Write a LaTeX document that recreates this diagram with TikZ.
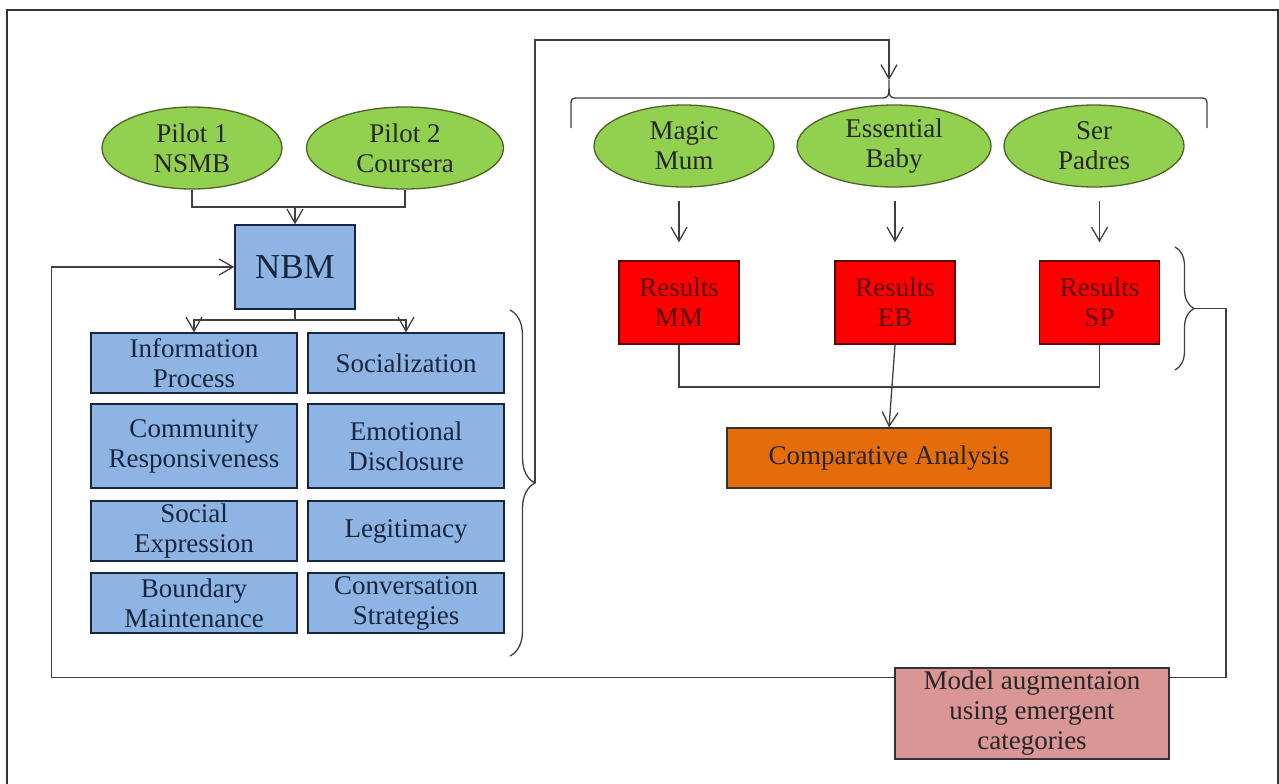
\documentclass[tikz,border=0pt]{standalone}
\usepackage{fontspec}
\setmainfont{Liberation Serif}
\usetikzlibrary{shapes,arrows.meta,decorations.pathreplacing}

\definecolor{ellgreen}{RGB}{146,208,80}
\definecolor{ellline}{RGB}{79,98,40}
\definecolor{boxblue}{RGB}{141,180,226}
\definecolor{boxline}{RGB}{23,38,62}
\definecolor{resred}{RGB}{255,0,0}
\definecolor{resline}{RGB}{90,10,10}
\definecolor{comporange}{RGB}{228,108,10}
\definecolor{augpink}{RGB}{217,150,148}
\definecolor{linegray}{RGB}{64,64,64}

\begin{document}
\begin{tikzpicture}[x=0.5pt, y=-0.5pt, line width=0.65pt,
  txt/.style={font=\fontsize{13.5}{15}\selectfont, align=center, inner sep=0pt},
  site/.style={txt, ellipse, draw=ellline, fill=ellgreen, text=black!85, minimum height=41pt},
  cat/.style={txt, rectangle, draw=boxline, fill=boxblue, text=boxline, minimum height=30pt},
  res/.style={txt, rectangle, draw=resline, fill=resred, text=resline, minimum width=60pt, minimum height=41.5pt},
  conn/.style={draw=linegray},
  arr/.style={-{Straight Barb[length=7pt,width=8pt]}}
  ]

  \useasboundingbox (0,0) rectangle (1279,783);
  \draw[line width=0.8pt, black!80] (7,10) rectangle (1278,830);

  % left part: pilots and NBM
  \node[site, minimum width=90pt] (pilotA) at (192,148) {Pilot 1\\NSMB};
  \node[site, minimum width=98.5pt] (pilotB) at (405,148) {Pilot 2\\Coursera};
  \node[cat, minimum width=60pt, minimum height=42pt,
        font=\fontsize{17.5}{20}\selectfont] (nbm) at (295,267) {NBM};

  \node[cat, minimum width=103pt] (info) at (194,363) {Information\\Process};
  \node[cat, minimum width=98pt] (social) at (406,363) {Socialization};
  \node[cat, minimum width=103pt, minimum height=42pt] (commun) at (194,446) {Community\\Responsiveness};
  \node[cat, minimum width=98pt, minimum height=42pt] (emot) at (406,446) {Emotional\\Disclosure};
  \node[cat, minimum width=103pt] (socexp) at (194,531) {Social\\Expression};
  \node[cat, minimum width=98pt] (legit) at (406,531) {Legitimacy};
  \node[cat, minimum width=103pt] (bound) at (194,603) {Boundary\\Maintenance};
  \node[cat, minimum width=98pt] (conv) at (406,603) {Conversation\\Strategies};

  % right part: sites and results
  \node[site, minimum width=90pt] (magic) at (684,146) {Magic\\Mum};
  \node[site, minimum width=97pt] (essential) at (894,146) {Essential\\Baby};
  \node[site, minimum width=90pt] (ser) at (1094,146) {Ser\\Padres};

  \node[res] (mm) at (679,302.5) {Results\\MM};
  \node[res] (eb) at (895,302.5) {Results\\EB};
  \node[res] (sp) at (1099.5,302.5) {Results\\SP};

  \node[txt, draw=black!80, fill=comporange, text=black!85, minimum width=162pt,
        minimum height=30pt] (comp) at (889,458) {Comparative Analysis};
  \node[txt, draw=black!80, fill=augpink, text=black!85, minimum width=137pt,
        minimum height=45.5pt] (model) at (1032,713.5) {Model augmentaion\\using emergent\\categories};

  % braces
  \draw[conn, decorate, decoration={brace, amplitude=12.5pt}] (510,310) -- (510,656);
  \coordinate (lbtip) at (535,483);
  \draw[conn, decorate, decoration={brace, amplitude=9.5pt}] (1175,247) -- (1175,370);
  \coordinate (rbtip) at (1194,308.5);
  \coordinate (tbtip) at (889,80);
  \draw[conn] (571,128) -- (571,107) .. controls (571,98) .. (580,98) -- (880,98)
    .. controls (889,98) .. (tbtip) .. controls (889,98) .. (898,98) -- (1198,98)
    .. controls (1207,98) .. (1207,107) -- (1207,128);

  % connectors
  \coordinate (pj) at (295,207);
  \draw[conn] (pilotA.south) |- (pj) -| (pilotB.south);
  \draw[conn, arr] (pj) -- (nbm.north);

  \coordinate (nj) at (295,320);
  \draw[conn] (nbm.south) -- (nj);
  \draw[conn, arr] (nj) -| (info.north);
  \draw[conn, arr] (nj) -| (social.north);

  \coordinate (tc) at (889,40);
  \draw[conn, arr] (lbtip) |- (tc) -- (tbtip);

  \draw[conn, arr] ([yshift=-6.5pt]mm.north |- magic.south) -- ([yshift=9pt]mm.north);
  \draw[conn, arr] ([yshift=-6.5pt]eb.north |- essential.south) -- ([yshift=9pt]eb.north);
  \draw[conn, arr] ([yshift=-6.5pt]sp.north |- ser.south) -- ([yshift=9pt]sp.north);

  \coordinate (rj) at (889,387);
  \draw[conn] (mm.south) |- (rj) -| (sp.south);
  \draw[conn, arr] (eb.south) -- (comp.north);

  \coordinate (fbR) at ([yshift=-5pt]model.north east);
  \coordinate (fbL) at ([yshift=-5pt]model.north west);
  \draw[conn] (rbtip) -- ++(32,0) |- (fbR);
  \draw[conn, arr] (fbL) -| ([xshift=-91.5pt]nbm.west) -- (nbm.west);

\end{tikzpicture}
\end{document}
